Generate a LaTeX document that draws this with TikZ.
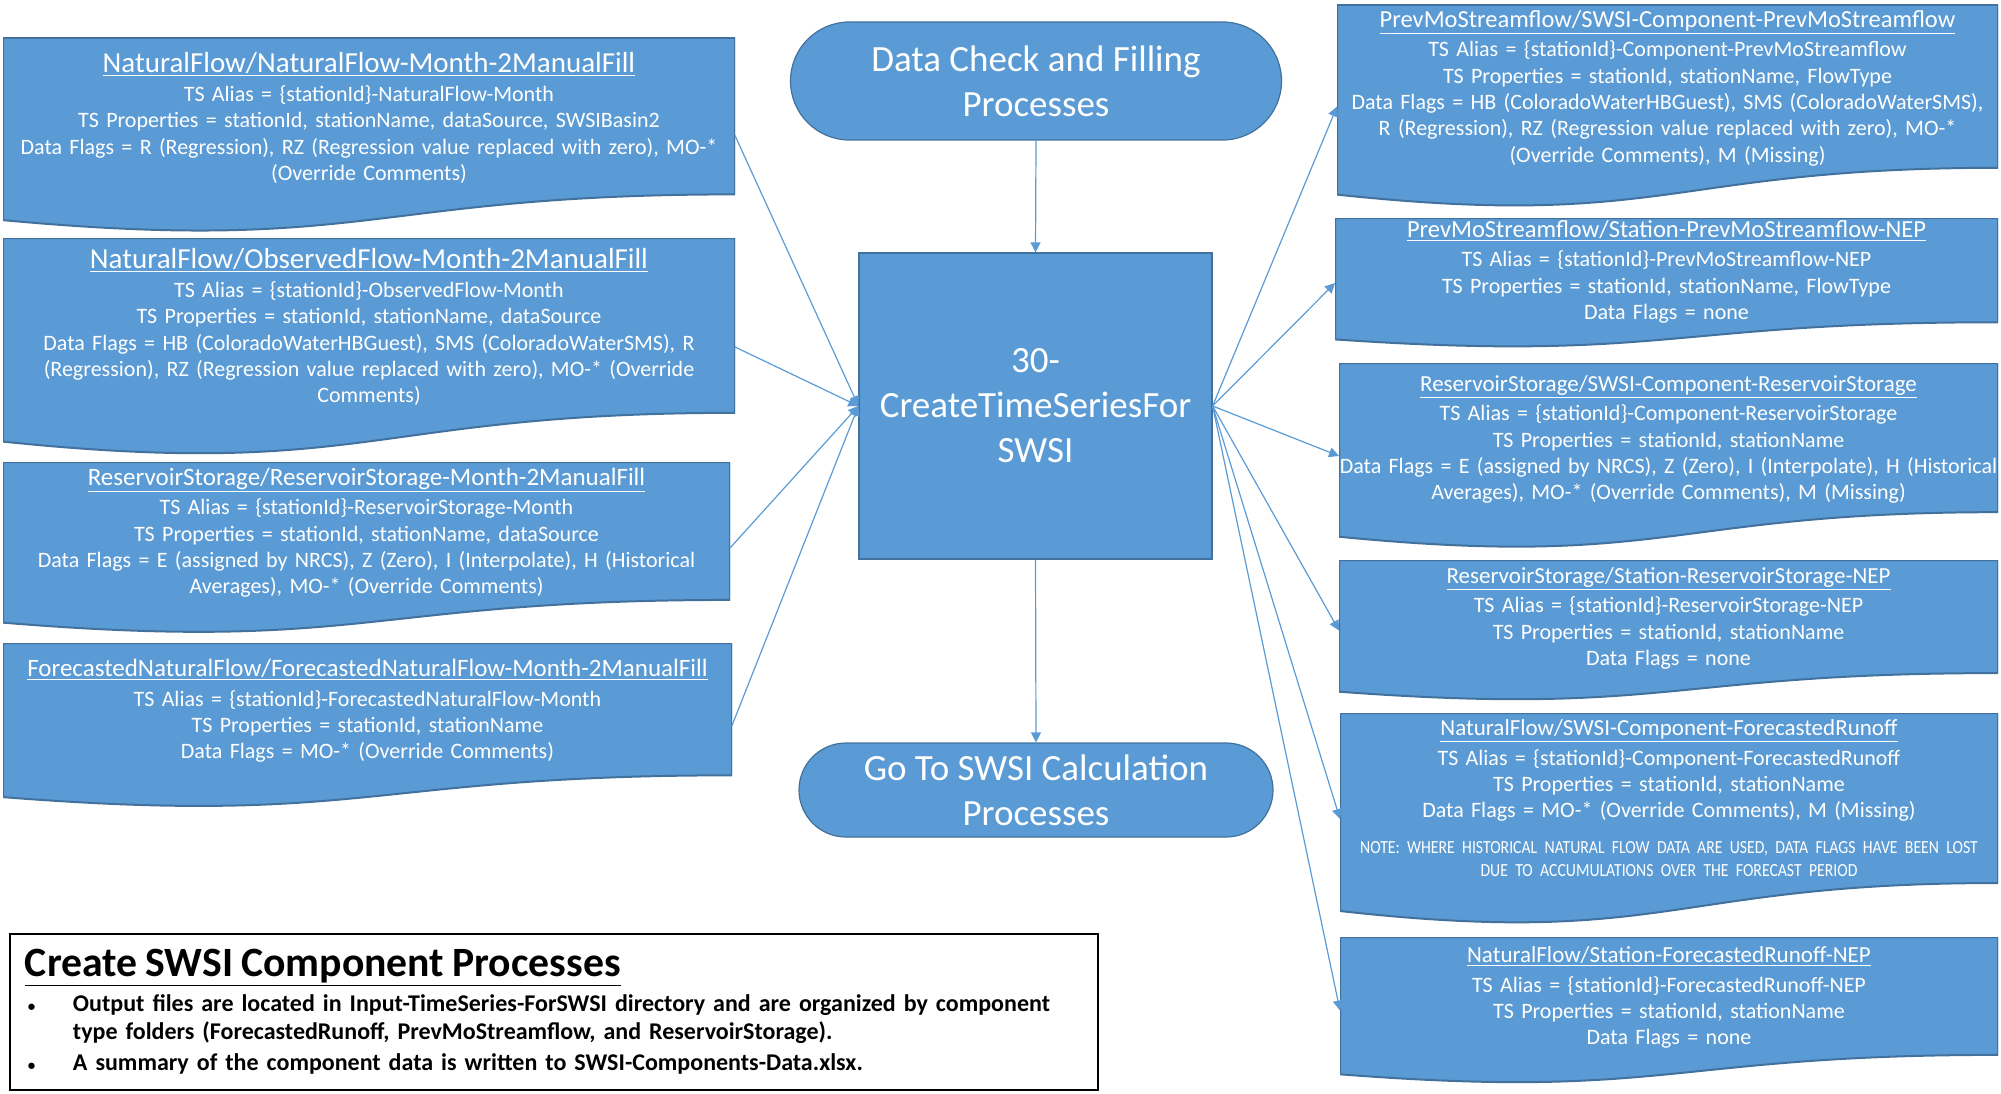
\documentclass[tikz,border=0pt]{standalone}
\usepackage{fontspec}
\setmainfont{Carlito}
\newfontfamily\boxfont[WordSpace=0.7]{Carlito}
\newfontfamily\notefont[FakeStretch=0.85,WordSpace=0.45]{Carlito}
\usepackage{tikz}
\usetikzlibrary{positioning,calc,arrows.meta,shapes.misc}
\tikzset{>={Triangle[length=10pt,width=10pt]}}

\definecolor{boxblue}{HTML}{5B9BD5}
\definecolor{boxedge}{HTML}{41719C}

\newcommand{\boxbody}{\boxfont\fontsize{22}{26.3}\selectfont}
\newcommand{\boxtitle}[2][29]{{\fontsize{#1}{31}\selectfont\underline{#2}}\\[3pt]}
\newcommand{\boxnote}{\par\vspace{16pt}\notefont\fontsize{18.5}{20}\selectfont}
\newcommand{\sumbullet}{\makebox[57pt][l]{\hspace*{12pt}{\fontsize{15}{15}\selectfont\textbullet}}}
\newcommand{\docwave}{%
  \fill[boxblue,draw=boxedge,line width=2pt]
    (path picture bounding box.north west) -- (path picture bounding box.north east)
    -- ($(path picture bounding box.north east)!0.802!(path picture bounding box.south east)$)
    .. controls ($(path picture bounding box.north)!0.802!(path picture bounding box.south)$)
    and ($(path picture bounding box.north)!1.1075!(path picture bounding box.south)$)
    .. ($(path picture bounding box.north west)!0.934!(path picture bounding box.south west)$) -- cycle;}

\tikzset{
  docbox/.style 2 args={minimum width=#1pt,minimum height=#2pt,inner sep=0pt,outer sep=0pt,
    text width=#1pt,align=center,text=white,font=\boxbody,path picture={\docwave},
    execute at end node={\rule[-0.198\dimexpr#2pt\relax]{0pt}{0pt}}},
  termbox/.style={rounded rectangle,fill=boxblue,draw=boxedge,line width=1.2pt,inner sep=0pt,
    text=white,align=center,font=\fontsize{37}{45}\selectfont},
  procbox/.style={rectangle,fill=boxblue,draw=boxedge,line width=1.2pt,inner sep=0pt,
    text=white,align=center,font=\fontsize{37}{45}\selectfont},
  sumbox/.style={rectangle,draw=black,line width=1.5pt,inner xsep=6pt,inner ysep=0pt,
    minimum width=1088pt,minimum height=156pt,text width=1076pt,align=left,
    font=\bfseries\fontsize{24}{28}\selectfont},
  link/.style={->,draw=boxblue,line width=1.2pt}
}

\begin{document}
\begin{tikzpicture}[x=1pt,y=-1pt]
\useasboundingbox (0,0) rectangle (2001,1094);

\node[termbox,minimum width=491pt,minimum height=118pt] (dcfill) at (1036,81) {Data Check and Filling\\Processes};
\node[procbox,minimum width=353pt,minimum height=306pt] (cts) at (1035.5,406) {30-\\CreateTimeSeriesFor\\SWSI};
\node[termbox,minimum width=474pt,minimum height=94pt] (gotocalc) at (1036,790) {Go To SWSI Calculation\\Processes};

\node[docbox={732}{195}] (nfmonth) at (369,135.5) {\boxtitle{NaturalFlow/NaturalFlow-Month-2ManualFill}
TS Alias = \{stationId\}-NaturalFlow-Month\\
TS Properties = stationId, stationName, dataSource, SWSIBasin2\\
Data Flags = R (Regression), RZ (Regression value replaced with zero), MO-*\\
(Override Comments)};
\node[docbox={732}{218}] (obsmonth) at (369,347) {\boxtitle{NaturalFlow/ObservedFlow-Month-2ManualFill}
TS Alias = \{stationId\}-ObservedFlow-Month\\
TS Properties = stationId, stationName, dataSource\\
Data Flags = HB (ColoradoWaterHBGuest), SMS (ColoradoWaterSMS), R\\
(Regression), RZ (Regression value replaced with zero), MO-* (Override\\
Comments)};
\node[docbox={727}{172}] (resmonth) at (366.5,548) {\boxtitle[25]{ReservoirStorage/ReservoirStorage-Month-2ManualFill}
TS Alias = \{stationId\}-ReservoirStorage-Month\\
TS Properties = stationId, stationName, dataSource\\
Data Flags = E (assigned by NRCS), Z (Zero), I (Interpolate), H (Historical\\
Averages), MO-* (Override Comments)};
\node[docbox={729}{165}] (fcstmonth) at (367.5,725.5) {\boxtitle[25]{ForecastedNaturalFlow/ForecastedNaturalFlow-Month-2ManualFill}
TS Alias = \{stationId\}-ForecastedNaturalFlow-Month\\
TS Properties = stationId, stationName\\
Data Flags = MO-* (Override Comments)};

\node[docbox={661}{203}] (prevcomp) at (1667.5,106.5) {\boxtitle[24.5]{PrevMoStreamflow/SWSI-Component-PrevMoStreamflow}
TS Alias = \{stationId\}-Component-PrevMoStreamflow\\
TS Properties = stationId, stationName, FlowType\\
Data Flags = HB (ColoradoWaterHBGuest), SMS (ColoradoWaterSMS),\\
R (Regression), RZ (Regression value replaced with zero), MO-*\\
(Override Comments), M (Missing)};
\node[docbox={663}{130}] (prevnep) at (1666.5,283) {\boxtitle[24.5]{PrevMoStreamflow/Station-PrevMoStreamflow-NEP}
TS Alias = \{stationId\}-PrevMoStreamflow-NEP\\
TS Properties = stationId, stationName, FlowType\\
Data Flags = none};
\node[docbox={659}{186}] (rescomp) at (1668.5,456) {\boxtitle[23]{ReservoirStorage/SWSI-Component-ReservoirStorage}
TS Alias = \{stationId\}-Component-ReservoirStorage\\
TS Properties = stationId, stationName\\
Data Flags = E (assigned by NRCS), Z (Zero), I (Interpolate), H (Historical\\
Averages), MO-* (Override Comments), M (Missing)};
\node[docbox={659}{141}] (resnep) at (1668.5,630.5) {\boxtitle[23]{ReservoirStorage/Station-ReservoirStorage-NEP}
TS Alias = \{stationId\}-ReservoirStorage-NEP\\
TS Properties = stationId, stationName\\
Data Flags = none};
\node[docbox={658}{212}] (runoffcomp) at (1669,819) {\boxtitle[23]{NaturalFlow/SWSI-Component-ForecastedRunoff}
TS Alias = \{stationId\}-Component-ForecastedRunoff\\
TS Properties = stationId, stationName\\
Data Flags = MO-* (Override Comments), M (Missing)
\boxnote NOTE: WHERE HISTORICAL NATURAL FLOW DATA ARE USED, DATA FLAGS HAVE BEEN LOST\\[-4pt]
DUE TO ACCUMULATIONS OVER THE FORECAST PERIOD};
\node[docbox={658}{147}] (runoffnep) at (1669,1010.5) {\boxtitle[23]{NaturalFlow/Station-ForecastedRunoff-NEP}
TS Alias = \{stationId\}-ForecastedRunoff-NEP\\
TS Properties = stationId, stationName\\
Data Flags = none};

\node[sumbox] (summary) at (554,1012) {\hspace*{9pt}{\fontsize{41.7}{46}\selectfont\underline{Create SWSI Component Processes}}\par
\vspace{7pt}
\sumbullet Output files are located in Input-TimeSeries-ForSWSI directory and are organized by component\\
\hspace*{57pt}type folders (ForecastedRunoff, PrevMoStreamflow, and ReservoirStorage).\\[3pt]
\sumbullet A summary of the component  data is written to SWSI-Components-Data.xlsx.};

\draw[link] (dcfill.south) -- (cts.north);
\draw[link] (cts.south) -- (gotocalc.north);
\foreach \src in {nfmonth,obsmonth,resmonth,fcstmonth}
  \draw[link] (\src.east) -- (cts.west);
\foreach \dst in {prevcomp,prevnep,rescomp,resnep,runoffcomp,runoffnep}
  \draw[link] (cts.east) -- (\dst.west);
\end{tikzpicture}
\end{document}
